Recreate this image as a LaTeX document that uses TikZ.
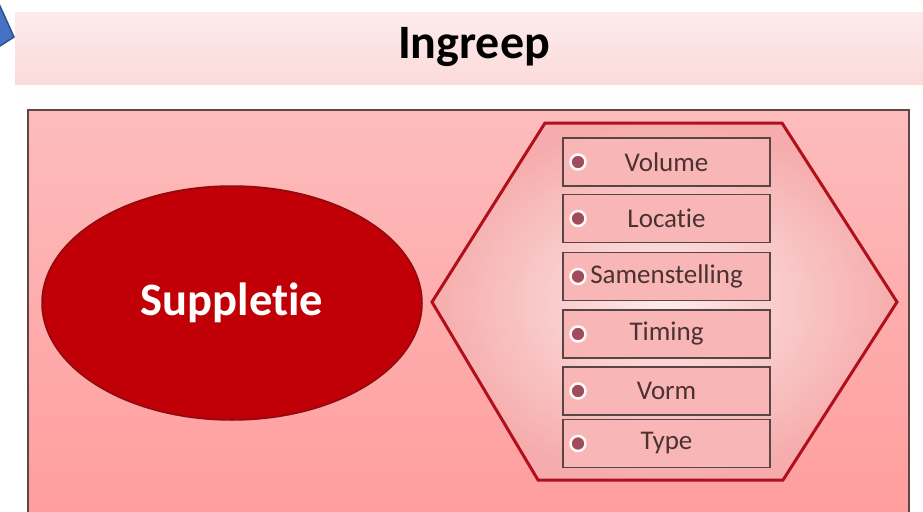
\documentclass[tikz,border=0pt]{standalone}
\usepackage{fontspec}
\setmainfont[Ligatures=NoCommon]{Carlito}
\usetikzlibrary{shapes.geometric}
\definecolor{bannertop}{HTML}{FDEBEB}
\definecolor{bannerbot}{HTML}{FBDADA}
\definecolor{boxtop}{HTML}{FDBCBC}
\definecolor{boxbot}{HTML}{FF9D9D}
\definecolor{boxline}{HTML}{5E4646}
\definecolor{ellfill}{HTML}{C00006}
\definecolor{ellline}{HTML}{8E0A10}
\definecolor{hexline}{HTML}{B0101C}
\definecolor{hexin}{HTML}{FDEAEA}
\definecolor{hexout}{HTML}{F6ACAC}
\definecolor{itemfill}{HTML}{F9B6B6}
\definecolor{itemline}{HTML}{5A4444}
\definecolor{itemtext}{HTML}{4A3232}
\definecolor{bulletc}{HTML}{A04C5C}
\definecolor{bluefill}{HTML}{4472C4}
\definecolor{blueline}{HTML}{2F528F}
\tikzset{
  itembox/.style={draw=itemline, line width=1.3pt, fill=itemfill, minimum width=207pt, minimum height=48pt, inner sep=0pt, text=itemtext, font=\fontsize{27}{30}\selectfont},
  bulletdot/.style={circle, fill=bulletc, draw=white!92!itemfill, line width=2.5pt, minimum size=15pt, inner sep=0pt}
}
\begin{document}
\begin{tikzpicture}[x=1pt,y=-1pt]
\useasboundingbox (0,0) rectangle (923,511);
\clip (0,0) rectangle (923,511);
\fill[white] (0,0) rectangle (923,511);
% blue arrow fragment
\filldraw[fill=bluefill, draw=blueline, line width=1.5pt] (-10,-10) -- (0,6) -- (14,37) -- (0,46) -- (-10,50) -- cycle;
% banner
\shade[top color=bannertop, bottom color=bannerbot] (15,13) rectangle (930,85);
\shade[top color=white!85!bannertop, bottom color=white] (15,85) rectangle (930,104);
\node[font=\bfseries\fontsize{48}{54}\selectfont, text=black] (title) at (474,47) {Ingreep};
% main box
\shade[top color=boxtop, bottom color=boxbot] (28,110) rectangle (909,520);
\draw[boxline, line width=1.5pt] (28,520) -- (28,110) -- (909,110) -- (909,520);
% ellipse
\node[ellipse, fill=ellfill, draw=ellline, line width=1.5pt, minimum width=380pt, minimum height=234pt, text=white, font=\bfseries\fontsize{46.5}{52}\selectfont] (supp) at (232,303) {Suppletie};
% hexagon
\coordinate (h1) at (432,302);
\coordinate (h2) at (545,123);
\coordinate (h3) at (782,123);
\coordinate (h4) at (897,302);
\coordinate (h5) at (783,480);
\coordinate (h6) at (538,480);
\shade[inner color=hexin, outer color=hexout] (h1) -- (h2) -- (h3) -- (h4) -- (h5) -- (h6) -- cycle;
\draw[hexline, line width=3pt, line join=miter] (h1) -- (h2) -- (h3) -- (h4) -- (h5) -- (h6) -- cycle;
% items
\foreach \name/\txt/\y in {vol/Volume/162, loc/Locatie/218.5, sam/Samenstelling/276.5, tim/Timing/334, vor/Vorm/391, typ/Type/443.5}{
  \node[itembox] (\name) at (666.5,\y) {\txt};
  \node[bulletdot] (\name b) at (578,\y) {};
}
\end{tikzpicture}
\end{document}
